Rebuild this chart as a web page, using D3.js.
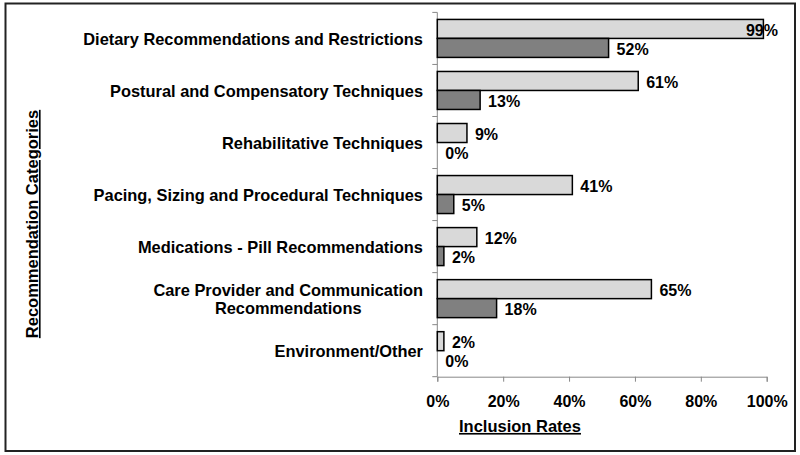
<!DOCTYPE html>
<html><head><meta charset="utf-8">
<script src="https://cdn.jsdelivr.net/npm/d3@7/dist/d3.min.js"></script>
<style>body{margin:0;background:#fff}svg{display:block}text{font-family:"Liberation Sans",Arial,sans-serif;font-weight:bold;fill:#000}</style>
</head><body><svg id="c" width="800" height="455"></svg>
<script>
const categories = [
  ["Dietary Recommendations and Restrictions"],
  ["Postural and Compensatory Techniques"],
  ["Rehabilitative Techniques"],
  ["Pacing, Sizing and Procedural Techniques"],
  ["Medications - Pill Recommendations"],
  ["Care Provider and Communication", "Recommendations"],
  ["Environment/Other"]
];
const lightValues = [0.99, 0.61, 0.09, 0.41, 0.12, 0.65, 0.02];
const darkValues  = [0.52, 0.13, 0.00, 0.05, 0.02, 0.18, 0.00];
const xTicks = [0, 0.2, 0.4, 0.6, 0.8, 1.0];
const xTitle = "Inclusion Rates";
const yTitle = "Recommendation Categories";

const svg = d3.select("#c");
svg.append("rect").attr("x",5.5).attr("y",3.5).attr("width",789.5).attr("height",447.5)
  .attr("fill","#fff").attr("stroke","#222").attr("stroke-width",2);

const x = d3.scaleLinear().domain([0,1]).range([437.3,766.7]);
const idx = categories.map((d,i)=>i);
const y = d3.scaleBand().domain(idx).range([12.4,376.7]).paddingInner(0).paddingOuter(0);
const inner = d3.scaleBand().domain(["l","d"]).range([0,y.bandwidth()]).paddingInner(0).paddingOuter(0.37);

// x axis
const xAxis = d3.axisBottom(x).tickValues(xTicks).tickFormat(d3.format(".0%")).tickSize(5).tickPadding(14);
const gx = svg.append("g").attr("transform","translate(0,376.7)").call(xAxis);
gx.select(".domain").attr("stroke","#888");
gx.selectAll(".tick line").attr("stroke","#888");
gx.selectAll(".tick text").attr("font-size",16).attr("font-family","Liberation Sans, Arial, sans-serif").attr("font-weight","bold").attr("fill","#000");

// y axis line and ticks at band boundaries
const yb = d3.range(categories.length+1).map(i=>12.4 + i*y.bandwidth());
svg.append("line").attr("x1",437.3).attr("x2",437.3).attr("y1",12.4).attr("y2",376.7).attr("stroke","#888");
svg.selectAll(".ytk").data(yb).enter().append("line")
  .attr("x1",432.3).attr("x2",437.3).attr("y1",d=>d).attr("y2",d=>d).attr("stroke","#888");

// bars
const rows = svg.selectAll(".row").data(idx).enter().append("g")
  .attr("transform",d=>`translate(0,${y(d)})`);
rows.append("rect").attr("x",x(0)).attr("y",inner("l")).attr("height",inner.bandwidth())
  .attr("width",d=>x(lightValues[d])-x(0)).attr("fill","#d9d9d9").attr("stroke","#000").attr("stroke-width",1.5);
rows.append("rect").attr("x",x(0)).attr("y",inner("d")).attr("height",inner.bandwidth())
  .attr("width",d=>x(darkValues[d])-x(0)).attr("fill","#808080").attr("stroke","#000").attr("stroke-width",1.5)
  .attr("display",d=>darkValues[d]>0?null:"none");

const fmt = d3.format(".0%");
rows.append("text").attr("font-size",16).attr("dy","0.36em")
  .attr("y",inner("l")+inner.bandwidth()/2+1)
  .text(d=>fmt(lightValues[d]))
  .each(function(d){
    const w = this.getComputedTextLength();
    const xs = Math.min(x(lightValues[d])+8, 778 - w);
    d3.select(this).attr("x",xs);
  });
rows.append("text").attr("font-size",16).attr("dy","0.36em")
  .attr("y",inner("d")+inner.bandwidth()/2+1)
  .attr("x",d=>x(darkValues[d])+8)
  .text(d=>fmt(darkValues[d]));

// category labels
categories.forEach((lines,i)=>{
  const cy = y(i)+y.bandwidth()/2 + 0.5;
  const t = svg.append("text").attr("font-size",16.4);
  const n = lines.length;
  lines.forEach((ln,j)=>{
    t.append("tspan").text(ln).attr("y", cy + (j-(n-1)/2)*18).attr("dy","0.36em");
  });
  const widths = [];
  t.selectAll("tspan").each(function(){widths.push(this.getComputedTextLength());});
  const maxW = d3.max(widths);
  const cx = 423 - maxW/2;
  t.attr("text-anchor","middle");
  t.selectAll("tspan").attr("x",cx);
});

// titles
svg.append("text").attr("x",520).attr("y",426).attr("dy","0.36em").attr("text-anchor","middle")
  .attr("font-size",16.5).attr("text-decoration","underline").text(xTitle);
svg.append("text").attr("transform","translate(32,224) rotate(-90)").attr("dy","0.36em").attr("text-anchor","middle")
  .attr("font-size",16.5).attr("text-decoration","underline").text(yTitle);
</script></body></html>
